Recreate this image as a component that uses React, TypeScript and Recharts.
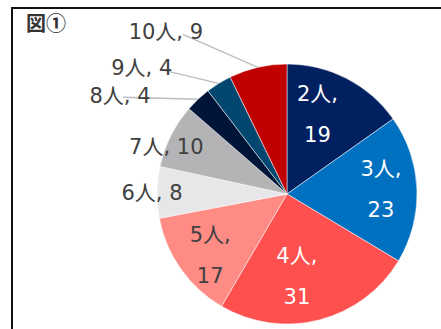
import { PieChart, Pie, Cell } from 'recharts';

const households = ['2人', '3人', '4人', '5人', '6人', '7人', '8人', '9人', '10人'];
const counts = [19, 23, 31, 17, 8, 10, 4, 4, 9];
const sliceColors = ['#002060', '#0070c0', '#ff5050', '#ff8b85', '#e7e6e8', '#b4b4b6', '#001538', '#02476f', '#c00000'];

// how each slice is labelled: two lines inside, one line near the rim, or pulled out with a leader line
const labelKind = ['inside', 'inside', 'inside', 'inside', 'rim', 'rim', 'callout', 'callout', 'callout'];
const labelInk = ['#ffffff', '#ffffff', '#ffffff', '#404040', '#404040', '#404040', '#404040', '#404040', '#404040'];
const labelNudge: [number, number][] = [
  [-10, -1], [6, -1], [-12, -3], [-5, 11], [-47, 0], [-42, -8], [-78, -3], [-77, -15], [-92, -35],
];
const leaderStart: [number, number][] = [
  [0, 0], [0, 0], [0, 0], [0, 0], [0, 0], [0, 0], [3, 1], [18, 1], [17, 2],
];

const data = households.map((name, i) => ({ name, value: counts[i] }));

const RAD = Math.PI / 180;
const FONT = '"DejaVu Sans", "Noto Sans CJK JP", sans-serif';
const FS = 21;

function SliceLabel(props: any) {
  const { cx, cy, midAngle, outerRadius, index, name, value } = props;
  const kind = labelKind[index];
  const cos = Math.cos(-midAngle * RAD);
  const sin = Math.sin(-midAngle * RAD);
  const [dx, dy] = labelNudge[index];
  const fill = labelInk[index];

  if (kind === 'callout') {
    const ex = cx + outerRadius * cos;
    const ey = cy + outerRadius * sin;
    const lx = ex + dx;
    const ly = ey + dy;
    const [sx, sy] = leaderStart[index];
    return (
      <g>
        <line x1={lx + sx} y1={ly + sy} x2={ex} y2={ey} stroke="#bdbdbd" strokeWidth={1.3} />
        <text x={lx} y={ly} fill={fill} fontSize={FS} fontFamily={FONT} textAnchor="middle" dominantBaseline="central">
          {`${name}, ${value}`}
        </text>
      </g>
    );
  }

  const r = outerRadius * 0.677;
  const x = cx + r * cos + dx;
  const y = cy + r * sin + dy;

  if (kind === 'rim') {
    return (
      <text x={x} y={y} fill={fill} fontSize={FS} fontFamily={FONT} textAnchor="middle" dominantBaseline="central">
        {`${name}, ${value}`}
      </text>
    );
  }

  return (
    <text x={x} y={y} fill={fill} fontSize={FS} fontFamily={FONT} textAnchor="middle" dominantBaseline="central">
      <tspan x={x} y={y - 20.5}>{`${name},`}</tspan>
      <tspan x={x} y={y + 20.5}>{value}</tspan>
    </text>
  );
}

export default function App() {
  return (
    <div style={{ position: 'absolute', left: 0, top: 0, width: 441, height: 329, overflow: 'hidden', background: '#fff' }}>
      <div
        style={{
          position: 'absolute',
          left: 11,
          top: 7,
          width: 460,
          height: 360,
          border: '2px solid #111',
          boxSizing: 'border-box',
        }}
      />
      <div
        style={{
          position: 'absolute',
          left: 26,
          top: 11,
          fontFamily: '"Noto Sans CJK JP", sans-serif',
          fontWeight: 'bold',
          fontSize: 20,
          color: '#333',
          lineHeight: '24px',
        }}
      >
        図①
      </div>
      <div style={{ position: 'absolute', left: 0, top: 0 }}>
        <PieChart width={441} height={329} margin={{ top: 0, right: 0, bottom: 0, left: 0 }}>
          <Pie
            data={data}
            dataKey="value"
            nameKey="name"
            cx={287}
            cy={194}
            outerRadius={130}
            startAngle={90}
            endAngle={-270}
            stroke="#ffffff"
            strokeWidth={0.5}
            label={SliceLabel}
            labelLine={false}
            isAnimationActive={false}
          >
            {data.map((d, i) => (
              <Cell key={d.name} fill={sliceColors[i]} />
            ))}
          </Pie>
        </PieChart>
      </div>
    </div>
  );
}
